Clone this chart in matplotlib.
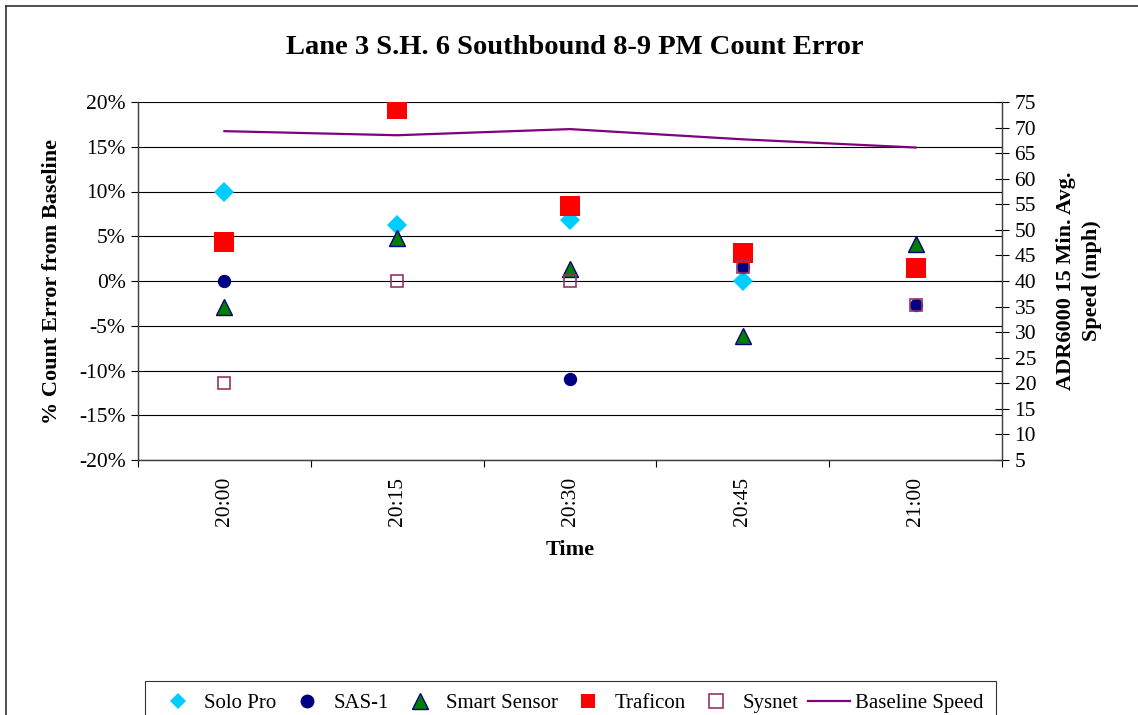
import numpy as np
import matplotlib
matplotlib.use('Agg')
import matplotlib.pyplot as plt
from matplotlib.lines import Line2D

times = ['20:00', '20:15', '20:30', '20:45', '21:00']

# % count error from baseline (nan = no point shown)
solo_pro = [10.0, 6.3, 6.8, 0.0, np.nan]
sas_1 = [0.0, np.nan, -11.0, 1.6, -2.7]
smart_sensor = [-2.9, 4.8, 1.3, -6.2, 4.1]
traficon = [4.4, 19.2, 8.4, 3.1, 1.4]
sysnet = [-11.4, 0.0, 0.0, 1.6, -2.7]

# ADR6000 15 min average speed (mph)
baseline_speed = [69.3, 68.5, 69.7, 67.7, 66.1]

plt.rcParams['font.family'] = ['Liberation Serif', 'DejaVu Serif']
plt.rcParams['axes.unicode_minus'] = False

W, H = 1138, 715
fig = plt.figure(figsize=(W / 100, H / 100), dpi=100)
ax = fig.add_axes([138 / W, 1 - 460 / H, (1002 - 138) / W, (460 - 102) / H])
ax2 = ax.twinx()

x = np.arange(len(times))

ax.plot(x, solo_pro, linestyle='none', marker='D', markersize=10.2,
        color='#00CCFF', markeredgewidth=0, label='Solo Pro', zorder=3)
ax.plot(x, sas_1, linestyle='none', marker='o', markersize=9.6,
        color='#000080', markeredgewidth=0, label='SAS-1', zorder=3)
ax.plot(x, smart_sensor, linestyle='none', marker='^', markersize=11,
        markerfacecolor='#008000', markeredgecolor='#000080', markeredgewidth=1,
        label='Smart Sensor', zorder=3)
ax.plot(x, traficon, linestyle='none', marker='s', markersize=14,
        color='#FF0000', markeredgewidth=0, label='Traficon', zorder=3)
ax.plot(x, sysnet, linestyle='none', marker='s', markersize=9.2,
        markerfacecolor='none', markeredgecolor='#993366', markeredgewidth=1.2,
        label='Sysnet', zorder=3)

ax2.plot(x, baseline_speed, color='#800080', linewidth=1.6, label='Baseline Speed')

# left axis
ax.set_ylim(-20, 20)
ax.set_yticks(np.arange(-20, 21, 5))
ax.set_yticklabels([f'{v}%' for v in range(-20, 21, 5)])
ax.set_xlim(-0.5, len(times) - 0.5)
ax.yaxis.grid(True, color='black', linewidth=0.8)
ax.set_axisbelow(True)
ax.tick_params(axis='y', direction='out', length=5, width=0.8, labelsize=15.5, pad=4)

# category labels between boundary ticks
ax.set_xticks(np.arange(-0.5, len(times), 1.0))
ax.set_xticklabels([])
ax.set_xticks(x, minor=True)
ax.set_xticklabels(times, minor=True, rotation=90)
ax.tick_params(axis='x', which='major', direction='out', length=5, width=0.8)
ax.tick_params(axis='x', which='minor', length=0, labelsize=15.5, pad=12)

ax.spines['top'].set_visible(False)
ax2.spines['top'].set_visible(False)
for a in (ax, ax2):
    for s in ['left', 'right', 'bottom']:
        a.spines[s].set_color('#404040')
        a.spines[s].set_linewidth(0.9)

# right axis
ax2.set_ylim(5, 75)
ax2.set_yticks(np.arange(5, 76, 5))
ax2.tick_params(axis='y', direction='inout', length=10, width=0.8, labelsize=15.5, pad=4)

ax.set_xlabel('Time', fontsize=16, fontweight='bold', labelpad=10)
ax.set_ylabel('% Count Error from Baseline', fontsize=16, fontweight='bold', labelpad=12)
ax2.set_ylabel('ADR6000 15 Min. Avg.\nSpeed (mph)', fontsize=16, fontweight='bold',
               labelpad=14, linespacing=1.45)

fig.text(575 / W, 1 - 47 / H, 'Lane 3 S.H. 6 Southbound 8-9 PM Count Error',
         ha='center', va='center', fontsize=20.5, fontweight='bold')

# outer chart border (left and top edges visible)
fig.add_artist(Line2D([5.5 / W, 5.5 / W], [0, 1 - 5.5 / H], transform=fig.transFigure,
                      color='#303030', linewidth=1.2))
fig.add_artist(Line2D([5.5 / W, 1], [1 - 5.5 / H, 1 - 5.5 / H], transform=fig.transFigure,
                      color='#303030', linewidth=1.2))

handles = ax.get_lines() + ax2.get_lines()
labels = [h.get_label() for h in handles]
leg = fig.legend(handles, labels, loc='upper left',
                 bbox_to_anchor=(145 / W, 0, (996 - 145) / W, 1 - 681 / H),
                 mode='expand', ncol=6, fontsize=15, frameon=True, fancybox=False,
                 numpoints=1, handlelength=2.0, handletextpad=0.25,
                 borderpad=0.6, borderaxespad=0)
leg.get_frame().set_edgecolor('black')
leg.get_frame().set_linewidth(0.8)
# legend markers are drawn a bit smaller than in the plot
for h, ms in zip(leg.legend_handles[:5], [8.2, 10, 11, 10.5, 9.6]):
    h.set_markersize(ms)

fig.savefig('out.png', dpi=100)
